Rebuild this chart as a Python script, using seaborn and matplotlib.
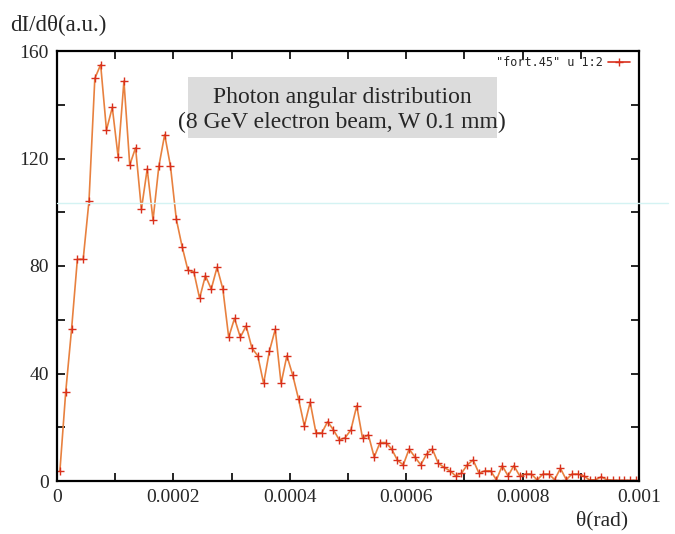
import matplotlib
matplotlib.use("Agg")
import matplotlib.pyplot as plt
from matplotlib.lines import Line2D
from matplotlib.patches import Rectangle
import numpy as np
import pandas as pd
import seaborn as sns

# Bin centres (micro-radians) and photon intensity per bin
theta_urad = [
    5, 15, 25, 35, 45, 55, 65, 75, 85, 95,
    105, 115, 125, 135, 145, 155, 165, 175, 185, 195,
    205, 215, 225, 235, 245, 255, 265, 275, 285, 295,
    305, 315, 325, 335, 345, 355, 365, 375, 385, 395,
    405, 415, 425, 435, 445, 455, 465, 475, 485, 495,
    505, 515, 525, 535, 545, 555, 565, 575, 585, 595,
    605, 615, 625, 635, 645, 655, 665, 675, 685, 695,
    705, 715, 725, 735, 745, 755, 765, 775, 785, 795,
    805, 815, 825, 835, 845, 855, 865, 875, 885, 895,
    905, 915, 925, 935, 945, 955, 965, 975, 985, 995,
]
intensity = [
    3.8, 33.2, 56.4, 82.5, 82.5, 104.3, 149.8, 154.9, 130.6, 139.0,
    120.7, 148.8, 117.6, 124.0, 101.1, 116.1, 97.1, 117.1, 128.9, 117.1,
    97.4, 87.2, 78.4, 77.9, 68.0, 76.4, 71.4, 79.5, 71.4, 53.5,
    60.5, 53.5, 57.7, 49.4, 46.6, 36.3, 48.4, 56.4, 36.3, 46.6,
    39.4, 30.5, 20.5, 29.3, 17.9, 17.9, 22.1, 19.0, 15.3, 16.1,
    19.0, 28.0, 15.9, 17.2, 8.9, 14.3, 14.3, 11.9, 7.7, 6.0,
    11.9, 8.9, 6.0, 10.0, 11.9, 6.6, 5.1, 3.8, 1.9, 2.9,
    6.0, 7.8, 2.9, 3.8, 3.8, 0.4, 5.7, 1.9, 5.7, 1.9,
    2.6, 2.6, 0.4, 2.6, 2.6, 0.5, 4.7, 0.5, 2.6, 2.6,
    1.9, 0.4, 0.4, 1.6, 0.4, 0.3, 0.2, 0.2, 0.2, 0.2,
]
x_ticks = [0, 0.0002, 0.0004, 0.0006, 0.0008, 0.001]
x_tick_labels = ["0", "0.0002", "0.0004", "0.0006", "0.0008", "0.001"]
y_ticks = [0, 40, 80, 120, 160]
y_tick_labels = ["0", "40", "80", "120", "160"]

df = pd.DataFrame({"theta": np.array(theta_urad) * 1e-6, "dI": intensity})

sns.set_theme(style="white")
plt.rcParams["font.family"] = ["Liberation Serif", "DejaVu Serif"]

fig = plt.figure(figsize=(6.75, 5.34), dpi=100)
ax = fig.add_axes([57 / 675, 53 / 534, 582 / 675, 430 / 534])

line_color = "#e8813f"
mark_color = "#d9301c"
sns.lineplot(data=df, x="theta", y="dI", ax=ax, color=line_color,
             linewidth=1.2, marker="+", markersize=6,
             markeredgecolor=mark_color, markeredgewidth=1.0)

ax.set_xlim(0, 0.001)
ax.set_ylim(0, 160)
ax.set_xticks(x_ticks)
ax.set_xticklabels(x_tick_labels)
ax.set_yticks(y_ticks)
ax.set_yticklabels(y_tick_labels)
ax.set_xticks(np.linspace(0, 0.001, 11), minor=True)
ax.set_yticks(np.linspace(0, 160, 9), minor=True)
ax.tick_params(axis="both", which="both", direction="in", top=True, right=True,
               bottom=True, left=True, color="black", width=1.2)
ax.tick_params(axis="both", which="major", length=6, labelsize=14, pad=6)
ax.tick_params(axis="both", which="minor", length=6)
ax.set_xlabel("")
ax.set_ylabel("")
for s in ax.spines.values():
    s.set_color("black")
    s.set_linewidth(1.6)

# faint cyan scan line across the frame
fig.add_artist(Line2D([57 / 675, 668 / 675], [1 - 203 / 534, 1 - 203 / 534],
                      color="#d4f3f3", linewidth=1.0))

# title box
fig.add_artist(Rectangle((188 / 675, 1 - 138 / 534), 309 / 675, 61 / 534,
                         facecolor="#dcdcdc", edgecolor="none"))
fig.text(342 / 675, 1 - 97 / 534, "Photon angular distribution",
         ha="center", va="center", fontsize=17)
fig.text(342 / 675, 1 - 122 / 534, "(8 GeV electron beam, W 0.1 mm)",
         ha="center", va="center", fontsize=17)

# key in the top-right corner
fig.text(603 / 675, 1 - 62 / 534, '"fort.45" u 1:2', ha="right", va="center",
         fontsize=8.5, family=["DejaVu Sans Mono"])
fig.add_artist(Line2D([608 / 675, 630 / 675], [1 - 62 / 534, 1 - 62 / 534],
                      color=mark_color, linewidth=1.2))
fig.add_artist(Line2D([619 / 675], [1 - 62 / 534], color=mark_color,
                      marker="+", markersize=6, linestyle="none"))

# axis labels
fig.text(10 / 675, 1 - 25 / 534, "dI/dθ(a.u.)", ha="left", va="center", fontsize=16.5)
fig.text(628 / 675, 1 - 521 / 534, "θ(rad)", ha="right", va="center", fontsize=15.5)

fig.savefig("out.png", dpi=100)
